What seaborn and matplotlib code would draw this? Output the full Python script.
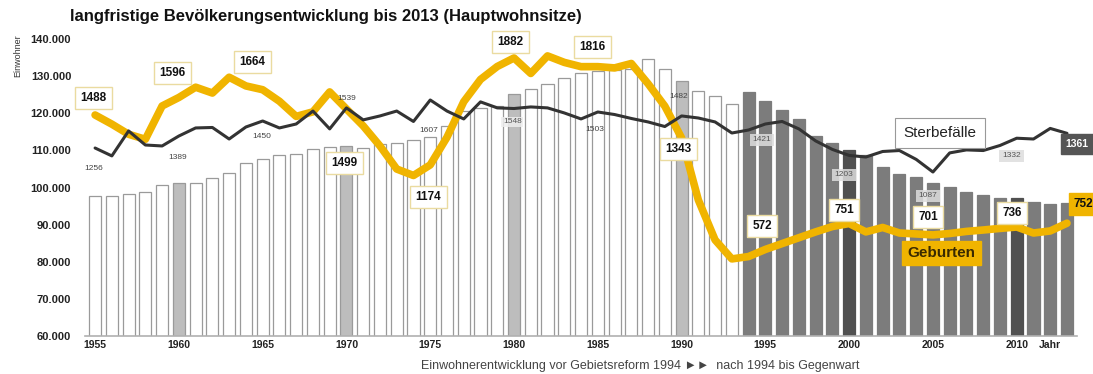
import numpy as np
import pandas as pd
import matplotlib
matplotlib.use("Agg")
import matplotlib.pyplot as plt
import seaborn as sns

# ---------------- data ----------------
years = list(range(1955, 2014))
einwohner = [97800, 97700, 98200, 98900, 100600, 101100, 101100, 102500, 104000, 106500,
             107600, 108700, 109000, 110300, 111000, 111200, 110700, 111800, 112100, 112800,
             113500, 116500, 120600, 121400, 122000, 125100, 126500, 127800, 129600, 130900,
             131400, 131600, 132000, 134500, 131800, 128700, 126000, 124700, 122600, 125700,
             123300, 120800, 118400, 113900, 112100, 110100, 108800, 105600, 103600, 102700,
             101300, 100200, 98900, 98000, 97100, 97100, 96000, 95500, 95800]
geburten_kurve = [1502, 1444, 1380, 1348, 1559, 1613, 1678, 1641, 1741, 1686,
                  1662, 1589, 1493, 1522, 1648, 1540, 1433, 1306, 1160, 1119,
                  1186, 1361, 1586, 1727, 1809, 1863, 1765, 1876, 1835, 1808,
                  1808, 1800, 1828, 1700, 1558, 1357, 964, 711, 591, 606,
                  651, 688, 725, 762, 796, 815, 762, 790, 755, 749,
                  743, 752, 765, 774, 784, 793, 755, 768, 817]
sterbe_kurve = [1293, 1243, 1401, 1312, 1306, 1369, 1420, 1423, 1350, 1426,
                1464, 1420, 1445, 1527, 1414, 1547, 1471, 1496, 1527, 1461,
                1597, 1527, 1477, 1585, 1547, 1543, 1553, 1547, 1515, 1477,
                1521, 1505, 1480, 1458, 1429, 1496, 1483, 1458, 1388, 1407,
                1445, 1461, 1414, 1338, 1284, 1246, 1236, 1271, 1277, 1221,
                1141, 1262, 1281, 1277, 1309, 1355, 1350, 1417, 1386]

geburten_label_jahre = [1955, 1960, 1965, 1970, 1975, 1980, 1985, 1990, 1995, 2000, 2005, 2010, 2013]
geburten_label_werte = ["1488", "1596", "1664", "1499", "1174", "1882", "1816", "1343",
                        "572", "751", "701", "736", "752"]
sterbe_label_jahre = [1955, 1960, 1965, 1970, 1975, 1980, 1985, 1990, 1995, 2000, 2005, 2010, 2013]
sterbe_label_werte = ["1256", "1389", "1450", "1539", "1607", "1548", "1503", "1482",
                      "1421", "1203", "1087", "1332", "1361"]

ytick_werte = [60000, 70000, 80000, 90000, 100000, 110000, 120000, 130000, 140000]
xtick_jahre = [1955, 1960, 1965, 1970, 1975, 1980, 1985, 1990, 1995, 2000, 2005, 2010]

title = "langfristige Bevölkerungsentwicklung bis 2013 (Hauptwohnsitze)"
caption = "Einwohnerentwicklung vor Gebietsreform 1994 \u25ba\u25ba  nach 1994 bis Gegenwart"

# ---------------- style ----------------
sns.set_theme(style="white")
plt.rcParams['font.family'] = ['Liberation Sans', 'DejaVu Sans']

YELLOW = '#F0B400'
DARK = '#333333'

def bar_color(y):
    if y in (2000, 2010):
        return '#505050'
    if y >= 1994:
        return '#7c7c7c'
    if y % 10 == 0:
        return '#bdbdbd'
    return '#ffffff'

def edge_color(y):
    return bar_color(y) if y >= 1994 else '#9a9a9a'

df = pd.DataFrame({'Jahr': [str(y) for y in years], 'Einwohner': einwohner})
palette = {str(y): bar_color(y) for y in years}

fig = plt.figure(figsize=(10.93, 3.74), dpi=100)
ax = fig.add_axes([0.0778, 0.1016, 0.9076, 0.7941])

sns.barplot(data=df, x='Jahr', y='Einwohner', hue='Jahr', palette=palette,
            legend=False, width=0.72, saturation=1, ax=ax)
for p, y in zip(ax.patches, years):
    p.set_edgecolor(edge_color(y))
    p.set_linewidth(0.9)

ax.set_xlim(-0.6, len(years) - 0.4)
ax.set_ylim(60000, 140000)
ax.set_yticks(ytick_werte)
ax.set_yticklabels([f"{v:,}".replace(",", ".") for v in ytick_werte],
                   fontsize=8, fontweight='bold', color='#222222')
xt = [years.index(y) for y in xtick_jahre] + [57]
ax.set_xticks(xt)
ax.set_xticklabels([str(y) for y in xtick_jahre] + ["Jahr"], fontsize=7.5,
                   fontweight='bold', color='#222222')
ax.tick_params(axis='both', length=0, pad=3)
ax.tick_params(axis='y', pad=10)
ax.set_xlabel("")
ax.set_ylabel("")
for s in ['top', 'right', 'left']:
    ax.spines[s].set_visible(False)
ax.spines['bottom'].set_color('#b0b0b0')
ax.spines['bottom'].set_linewidth(1.2)

# ---------------- lines on secondary scale ----------------
ax2 = ax.twinx()
idx = np.arange(len(years))
sns.lineplot(x=idx, y=geburten_kurve, ax=ax2, color=YELLOW, linewidth=5.5,
             solid_capstyle='round', solid_joinstyle='round')
sns.lineplot(x=idx, y=sterbe_kurve, ax=ax2, color=DARK, linewidth=2.2,
             solid_capstyle='round', solid_joinstyle='round')
ax2.set_ylim(103, 1983)
ax2.set_xlim(-0.6, len(years) - 0.4)
ax2.set_yticks([])
ax2.set_ylabel("")
for s in ax2.spines.values():
    s.set_visible(False)

def px2v(ypx):
    return 1882 - (ypx - 55) * 6.33

# label positions (pixel-estimated)
g_pos = [(-0.1, 98), (4.6, 73), (9.4, 62), (14.9, 163), (19.9, 197), (24.8, 42), (29.7, 47),
         (34.8, 149), (39.8, 226), (44.7, 210), (49.7, 217), (54.7, 213), (59.0, 204)]
for (xp, yp), yr, txt in zip(g_pos, geburten_label_jahre, geburten_label_werte):
    last = yr == geburten_label_jahre[-1]
    ax2.text(xp, px2v(yp), txt, ha='center', va='center', fontsize=8.5, fontweight='bold',
             color='#111111', zorder=5,
             bbox=dict(boxstyle='square,pad=0.45', fc=YELLOW if last else 'white',
                       ec=YELLOW if last else '#eadba0', lw=1))

s_pos = [(-0.06, 169), (4.95, 158), (9.96, 137), (15.0, 99), (19.9, 131), (24.9, 122),
         (29.8, 130), (34.8, 97), (39.8, 140), (44.7, 175), (49.7, 196), (54.7, 156), (58.6, 144)]
for (xp, yp), yr, txt in zip(s_pos, sterbe_label_jahre, sterbe_label_werte):
    if yr == 2013:
        ax2.text(xp, px2v(yp), txt, ha='center', va='center', fontsize=7.5, fontweight='bold',
                 color='white', zorder=5,
                 bbox=dict(boxstyle='square,pad=0.45', fc='#555555', ec='#555555'))
    elif yr >= 1995:
        ax2.text(xp, px2v(yp), txt, ha='center', va='center', fontsize=6, color='#555555',
                 zorder=5, bbox=dict(boxstyle='square,pad=0.35', fc='#dddddd', ec='none', alpha=0.85))
    elif yr == 1980:
        ax2.text(xp, px2v(yp), txt, ha='center', va='center', fontsize=6, color='#555555',
                 zorder=5, bbox=dict(boxstyle='square,pad=0.2', fc='#eeeeee', ec='none', alpha=0.85))
    else:
        ax2.text(xp, px2v(yp), txt, ha='center', va='center', fontsize=6, color='#444444', zorder=5)

ax2.text(50.4, px2v(133), "Sterbef\u00e4lle", ha='center', va='center', fontsize=11,
         color='#222222', zorder=6,
         bbox=dict(boxstyle='square,pad=0.55', fc='white', ec='#999999', lw=0.8))
ax2.text(50.5, px2v(253), "Geburten", ha='center', va='center', fontsize=11, fontweight='bold',
         color='#3a2a00', zorder=6,
         bbox=dict(boxstyle='square,pad=0.35', fc=YELLOW, ec=YELLOW))

# ---------------- texts ----------------
fig.text(70 / 1093, 1 - 17 / 374, title, ha='left', va='center', fontsize=12,
         fontweight='bold', color='#111111')
fig.text(18 / 1093, 1 - 56 / 374, "Einwohner", rotation=90, ha='center', va='center',
         fontsize=6.5, color='#333333')
fig.text(640 / 1093, 1 - 366 / 374, caption, ha='center', va='center', fontsize=9,
         color='#444444')

fig.savefig("out.png", dpi=100)
